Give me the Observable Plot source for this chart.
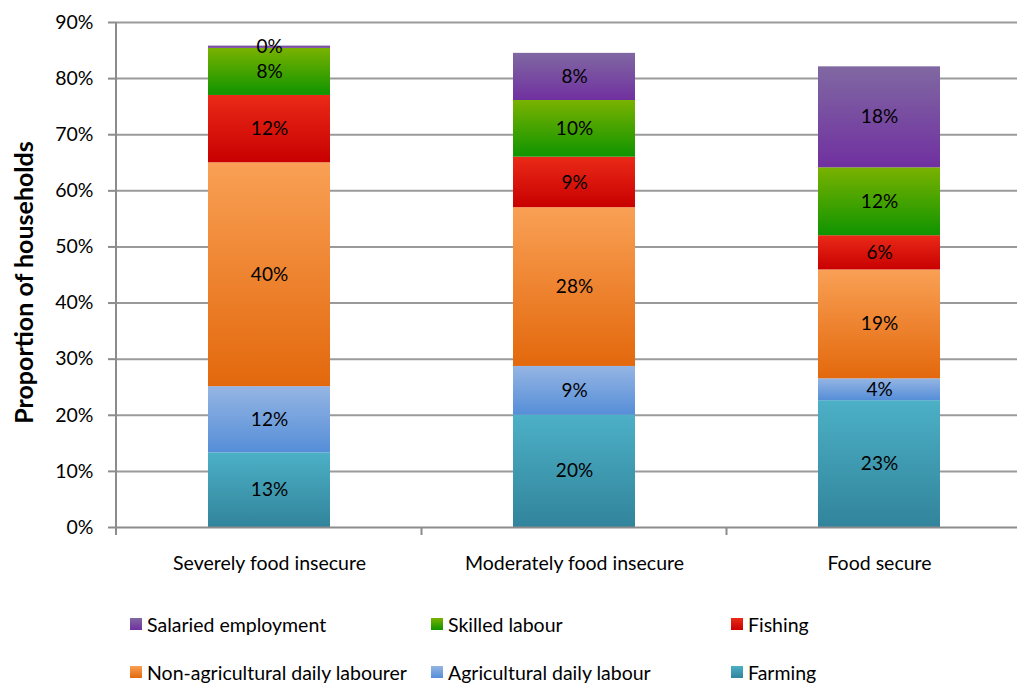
<!DOCTYPE html>
<html>
<head>
<meta charset="utf-8">
<script src="https://cdn.jsdelivr.net/npm/d3@7"></script>
<script src="https://cdn.jsdelivr.net/npm/@observablehq/plot@0.6"></script>
<style>
  body { margin: 0; background: #fff; font-family: Lato, "DejaVu Sans", sans-serif; }
  #wrap { position: relative; width: 1017px; }
  svg g[aria-label="y-axis tick"] { stroke: #8c8c8c; stroke-width: 2px; }
  .legend { position: relative; width: 1017px; height: 84px; font-size: 19.5px; color: #000; }
  .legend .item { position: absolute; display: flex; align-items: center; height: 26px; white-space: nowrap; }
  .legend .sw { width: 12px; height: 12px; margin-right: 5px; }
</style>
</head>
<body>
<div id="wrap"></div>
<script>
const categories = ["Severely food insecure", "Moderately food insecure", "Food secure"];
const series = ["Farming", "Agricultural daily labour", "Non-agricultural daily labourer", "Fishing", "Skilled labour", "Salaried employment"];
const severeValues = [13.3, 11.8, 39.9, 12.0, 8.4, 0.4];
const moderateValues = [20.0, 8.7, 28.3, 9.0, 10.1, 8.4];
const secureValues = [22.6, 3.9, 19.4, 6.1, 12.1, 18.0];
const yTicks = [0, 10, 20, 30, 40, 50, 60, 70, 80, 90];

const gradTop = ["#4cb0c6", "#95b5e3", "#f9a055", "#ea2a18", "#7ab200", "#8068a2"];
const gradBottom = ["#31849b", "#558ed8", "#e3680c", "#c80000", "#0f9400", "#7030a0"];

const valuesByCategory = [severeValues, moderateValues, secureValues];
const data = [];
categories.forEach((c, ci) => {
  series.forEach((s, si) => {
    data.push({category: c, series: s, value: valuesByCategory[ci][si], fill: `url(#grad${si})`});
  });
});

const chart = Plot.plot({
  width: 1017,
  height: 600,
  marginTop: 22,
  marginBottom: 73,
  marginLeft: 116,
  marginRight: 0,
  style: {fontFamily: "Lato, 'DejaVu Sans', sans-serif", fontSize: "19.5px", color: "#000", background: "#fff"},
  x: {domain: categories, range: [116, 1032], paddingInner: 0.6, paddingOuter: 0.3, label: null},
  y: {domain: [0, 90], label: null},
  color: {type: "identity"},
  marks: [
    Plot.gridY({ticks: yTicks.filter(d => d > 0), stroke: "#9a9a9a", strokeWidth: 2, strokeOpacity: 1}),
    Plot.axisY({ticks: yTicks, tickFormat: d => d + "%", tickSize: 8, tickPadding: 15, fontSize: 19.5, label: null}),
    Plot.barY(data, Plot.stackY({x: "category", y: "value", z: "series", order: series, fill: "fill"})),
    Plot.text(data, Plot.stackY({x: "category", y: "value", z: "series", order: series, text: d => Math.round(d.value) + "%", fontSize: 19, fill: "#000"})),
    Plot.ruleY([0], {stroke: "#8c8c8c", strokeWidth: 2}),
    Plot.axisX({tickSize: 0, tickPadding: 29, fontSize: 19.5, label: null})
  ]
});

const svg = d3.select(chart);
const defs = svg.insert("defs", ":first-child");
series.forEach((s, i) => {
  const g = defs.append("linearGradient").attr("id", `grad${i}`).attr("x1", 0).attr("y1", 0).attr("x2", 0).attr("y2", 1);
  g.append("stop").attr("offset", "0%").attr("stop-color", gradTop[i]);
  g.append("stop").attr("offset", "100%").attr("stop-color", gradBottom[i]);
});

const xs = chart.scale("x");
const ys = chart.scale("y");
const y0 = ys.apply(0);
const yTop = ys.apply(90);
const axisG = svg.append("g").attr("stroke", "#8c8c8c").attr("stroke-width", 2);
const xLeft = 116;
axisG.append("line").attr("x1", xLeft).attr("x2", xLeft).attr("y1", yTop).attr("y2", y0 + 8);
const half = (xs.step - xs.bandwidth) / 2;
categories.forEach(c => {
  const bx = xs.apply(c) + xs.bandwidth + half;
  axisG.append("line").attr("x1", bx).attr("x2", bx).attr("y1", y0).attr("y2", y0 + 8);
});

svg.append("text")
  .attr("transform", `translate(23, ${(yTop + y0) / 2 + 8}) rotate(-90)`)
  .attr("text-anchor", "middle")
  .attr("dominant-baseline", "central")
  .attr("font-weight", "bold")
  .attr("font-size", 25)
  .attr("fill", "#000")
  .text("Proportion of households");

document.getElementById("wrap").appendChild(chart);

// Legend (HTML, below the SVG)
const legend = d3.select("#wrap").append("div").attr("class", "legend");
const legendOrder = series.map((s, i) => i).reverse();
const colLeft = [130, 431, 731];
legendOrder.forEach((si, k) => {
  const row = Math.floor(k / 3), col = k % 3;
  const item = legend.append("div").attr("class", "item")
    .style("left", colLeft[col] + "px")
    .style("top", (11 + row * 48) + "px");
  item.append("div").attr("class", "sw")
    .style("background", `linear-gradient(${gradTop[si]}, ${gradBottom[si]})`);
  item.append("span").text(series[si]);
});
</script>
</body>
</html>
